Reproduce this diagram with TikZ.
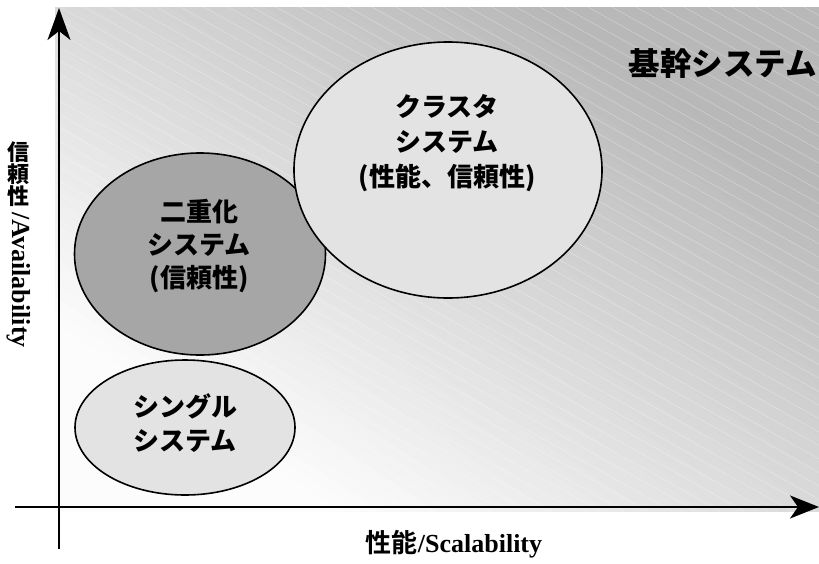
\documentclass[tikz,border=0pt]{standalone}
\usepackage{fontspec}
\setmainfont{Liberation Serif}
\IfFontExistsTF{Noto Sans CJK JP Black}
  {\newfontfamily\jp{Noto Sans CJK JP Black}}
  {\newfontfamily\jp{Noto Sans CJK JP}[UprightFont=* Bold]}
\usetikzlibrary{shapes.geometric,arrows.meta}
\definecolor{lightfill}{HTML}{E3E3E3}
\definecolor{darkfill}{HTML}{A6A6A6}
\tikzset{
  sysell/.style={ellipse, draw=black, line width=1.6pt, inner sep=0pt},
  systext/.style={font=\jp\fontsize{26}{34}\selectfont, align=center, inner sep=0pt},
  axisline/.style={line width=2.6pt, black},
  hatch/.style={white, opacity=0.35, line width=0.5pt},
}
\begin{document}
\begin{tikzpicture}[x=1pt,y=-1pt]
\useasboundingbox (0,0) rectangle (819,563);
% background: linear gradient from lower left (light) to upper right (dark)
\begin{scope}
  \clip (55,7) rectangle (819,511);
  \foreach \i in {0,...,79} {
    \pgfmathsetmacro\sa{\i/80}
    \pgfmathsetmacro\sb{(\i+1.4)/80}
    \pgfmathsetmacro\g{max(min(272-108*(\i+0.5)/80,252),184)/255}
    \definecolor{stripc}{gray}{\g}
    \fill[stripc] ({55+764*\sa-764},{511-504*\sa-504}) -- ({55+764*\sa+764},{511-504*\sa+504})
      -- ({55+764*\sb+764},{511-504*\sb+504}) -- ({55+764*\sb-764},{511-504*\sb-504}) -- cycle;
  }
  \foreach \x in {-900,-876,...,819} {
    \draw[hatch] (\x,7) -- ++(900,504);
  }
\end{scope}
% axes
\coordinate (ytop) at (59,8);
\coordinate (ybot) at (59,549);
\coordinate (xleft) at (15,507);
\coordinate (xright) at (819,507);
\draw[axisline, -{Stealth[length=32pt, width=23pt, inset=9pt]}] (ybot) -- (ytop);
\draw[axisline, -{Stealth[length=29pt, width=23pt, inset=8pt]}] (xleft) -- (xright);
% ellipses
\node[sysell, fill=lightfill, minimum width=220pt, minimum height=135pt] (single) at (185,427.5) {};
\node[sysell, fill=darkfill, minimum width=251pt, minimum height=202pt] (dual) at (200,254) {};
\node[sysell, fill=lightfill, minimum width=308pt, minimum height=256pt] (cluster) at (448,170) {};
% texts
\node[systext] (singletext) at (185,423) {シングル\\システム};
\node[systext, font=\jp\fontsize{26}{33}\selectfont] (dualtext) at (199,246) {二重化\\システム\\(信頼性)};
\node[systext, font=\jp\fontsize{26}{35}\selectfont] (clustertext) at (447,143) {クラスタ\\システム\\(性能、信頼性)};
\node[font=\jp\fontsize{31.5}{31.5}\selectfont, inner sep=0pt] (core) at (723,64) {基幹システム};
% axis labels
\node[font=\fontsize{26}{26}\selectfont\bfseries, inner sep=0pt] (xlabel) at (454,544) {{\jp 性能}/Scalability};
\node[font=\jp\fontsize{22}{22}\selectfont, align=center, inner sep=0pt] (ylabjp) at (18,174) {信\\頼\\性};
\node[font=\fontsize{26}{26}\selectfont\bfseries, rotate=-90, inner sep=0pt] (ylablat) at (19,280) {/Availability};
\end{tikzpicture}
\end{document}
